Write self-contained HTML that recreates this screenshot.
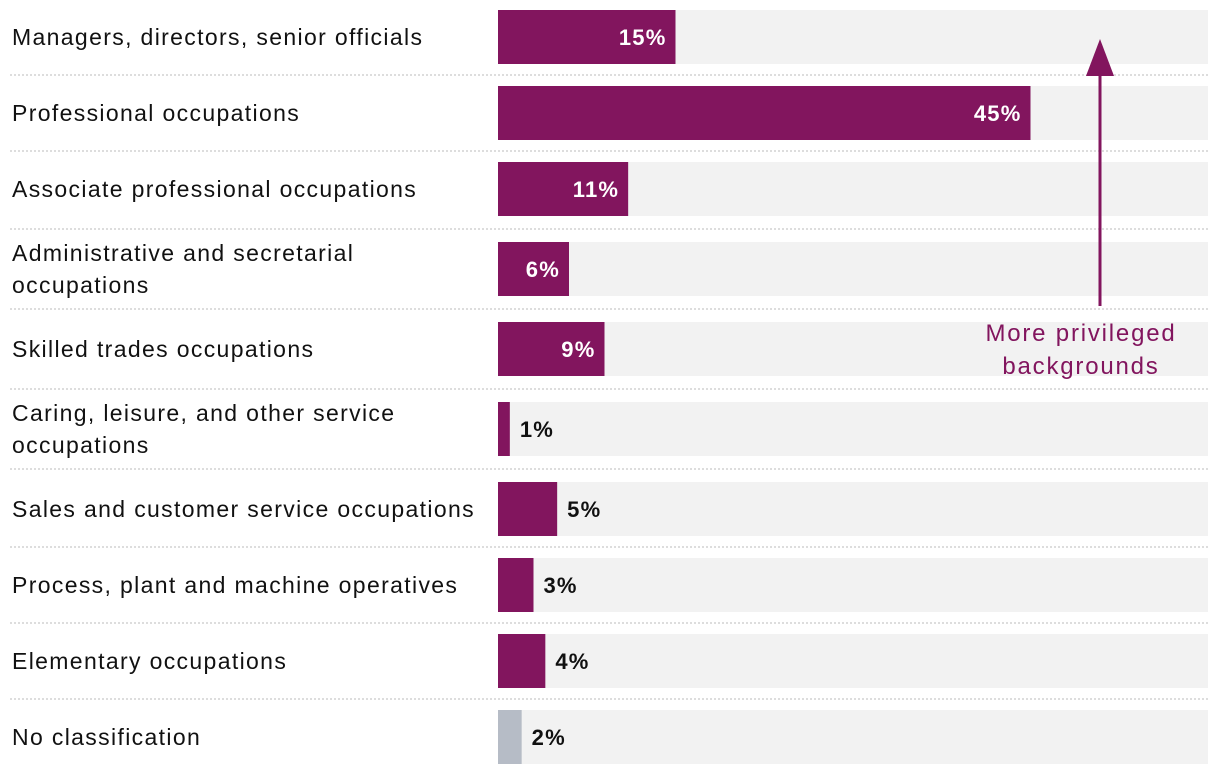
<!DOCTYPE html>
<html><head><meta charset="utf-8">
<style>
body{margin:0;background:#fff;width:1220px;height:776px;overflow:hidden;font-family:"Liberation Sans",sans-serif}
svg{display:block}
</style></head>
<body>
<svg id="chart" width="1220" height="776">
<g id="rows"></g>
<g>
<line x1="1100" y1="306" x2="1100" y2="70" stroke="#82155e" stroke-width="3"/>
<polygon points="1100,39 1086,76 1114,76" fill="#82155e"/>
<text x="1081" y="341" text-anchor="middle" font-size="24" letter-spacing="1.8" fill="#82155e">More privileged</text>
<text x="1081" y="374" text-anchor="middle" font-size="24" letter-spacing="1.8" fill="#82155e">backgrounds</text>
</g>
</svg>
<script>
const categories=[["Managers, directors, senior officials"],["Professional occupations"],["Associate professional occupations"],["Administrative and secretarial","occupations"],["Skilled trades occupations"],["Caring, leisure, and other service","occupations"],["Sales and customer service occupations"],["Process, plant and machine operatives"],["Elementary occupations"],["No classification"]];
const values=[15,45,11,6,9,1,5,3,4,2];
const labels=["15%","45%","11%","6%","9%","1%","5%","3%","4%","2%"];
const unclassified=[false,false,false,false,false,false,false,false,false,true];
const rowTops=[10,86,162,242,322,402,482,558,634,710];
const X0=498,W=710,MAX=60,H=54;
const xs=v=>v/MAX*W;
const NS="http://www.w3.org/2000/svg";
const g=document.getElementById('rows');
function mk(t,a){const e=document.createElementNS(NS,t);for(const k in a)e.setAttribute(k,a[k]);g.appendChild(e);return e;}
values.forEach((v,i)=>{
 const y=rowTops[i];
 const bg=mk('rect',{x:X0,y:y,width:W,height:H,fill:'#f2f2f2'});
 
 
 const w=xs(v);
 const b=mk('rect',{x:X0,y:y,width:w,height:H,fill:unclassified[i]?'#b6bcc6':'#82155e'});
 
 
 const inside=v>=6;
 const t=mk('text',{x:inside?X0+w-9:X0+w+10,y:y+H/2+8,'font-size':22,'font-weight':'bold','letter-spacing':1.2,fill:inside?'#fff':'#111','text-anchor':inside?'end':'start'});
 t.textContent=labels[i];
 
 
 const lines=categories[i];
 lines.forEach((ln,j)=>{
  const ty=lines.length==1?y+H/2+8:y+H/2-8+j*32;
  const c=mk('text',{x:12,y:ty,'font-size':23,'letter-spacing':1.35,fill:'#111'});
  c.textContent=ln;
  
  
 });
 if(i<values.length-1){
  const sy=(y+H+rowTops[i+1])/2;
  const s=mk('line',{x1:10,x2:1208,y1:sy,y2:sy,stroke:'#bbb','stroke-dasharray':'2,2'});
  
  
 }
});
</script>
</body></html>
